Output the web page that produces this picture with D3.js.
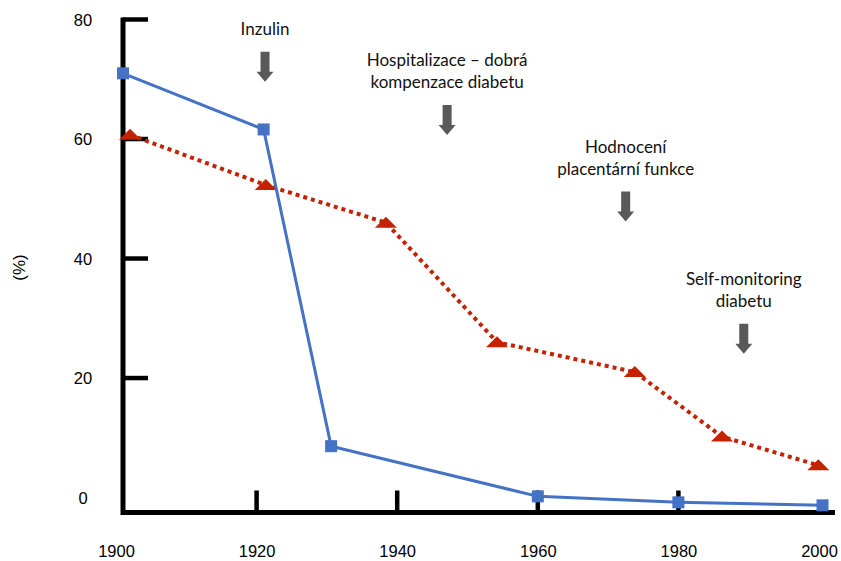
<!DOCTYPE html>
<html>
<head>
<meta charset="utf-8">
<script src="https://cdn.jsdelivr.net/npm/d3@7"></script>
<style>
  body { margin: 0; background: #fff; }
  svg { display: block; }
</style>
</head>
<body>
<svg></svg>
<script>
// data
let blueYears = [1901, 1921, 1930.6, 1960, 1980, 2000.5]
let blueValues = [71, 61.6, 8.6, 0.2, -0.8, -1.3]
let redYears = [1902, 1921.3, 1938.4, 1954.2, 1973.8, 1986.2, 1999.9]
let redValues = [60.7, 52.3, 46, 26, 21, 10.2, 5.4]
let xTicks = [1900, 1920, 1940, 1960, 1980, 2000]
let yTicks = [0, 20, 40, 60, 80]
let eventYears = [1921.2, 1947.1, 1972.5, 1989.3]
let eventLevels = [74.6, 65.7, 51.2, 29.1]
let eventLabels = [
  ['Inzulin'],
  ['Hospitalizace – dobrá', 'kompenzace diabetu'],
  ['Hodnocení', 'placentární funkce'],
  ['Self-monitoring', 'diabetu']
]

let width = 841,
    height = 561;

let svg = d3.select('svg')
            .attr('width', width)
            .attr('height', height)

//x scale
let x = d3.scaleLinear()
      .domain([1900, 2000])
      .range([116, 819])

//y scale
let y = d3.scaleLinear()
      .domain([-2.5, 80])
      .range([512.5, 19.5])

let blue = blueYears.map((d, i) => ({year: d, v: blueValues[i]}))
let red = redYears.map((d, i) => ({year: d, v: redValues[i]}))

// axes (custom look: thick black lines, ticks pointing inward)
let xAxis = d3.axisBottom(x)
              .tickValues(xTicks)
              .tickSize(0)
              .tickPadding(33)
              .tickFormat(d3.format('d'))
let yAxis = d3.axisLeft(y)
              .tickValues(yTicks)
              .tickSize(0)
              .tickPadding(0)

let gx = svg.append('g')
          .attr('transform', 'translate(0,' + y(-2.5) + ')')
          .call(xAxis)
gx.select('.domain').remove()
gx.selectAll('text')
  .attr('font-family', 'Liberation Sans, Arial, sans-serif')
  .attr('font-size', 16.5)
  .attr('fill', '#000')

let gy = svg.append('g')
          .attr('transform', 'translate(83,0)')
          .call(yAxis)
gy.select('.domain').remove()
gy.selectAll('text')
  .attr('text-anchor', 'middle')
  .attr('x', 0)
  .attr('dy', '0.35em')
  .attr('font-family', 'Liberation Sans, Arial, sans-serif')
  .attr('font-size', 16.5)
  .attr('fill', '#000')

// inward tick marks
svg.append('g').selectAll('line')
   .data(yTicks.filter(d => d > 0))
   .enter()
   .append('line')
   .attr('x1', 123).attr('x2', 148)
   .attr('y1', d => y(d)).attr('y2', d => y(d))
   .attr('stroke', '#000')
   .attr('stroke-width', 4.5)

svg.append('g').selectAll('line')
   .data(xTicks.filter(d => d > 1900 && d < 2000))
   .enter()
   .append('line')
   .attr('x1', d => x(d)).attr('x2', d => x(d))
   .attr('y1', y(-2.5)).attr('y2', y(-2.5) - 22)
   .attr('stroke', '#000')
   .attr('stroke-width', 4.5)

// axis lines
svg.append('line')
   .attr('x1', 123).attr('x2', 123)
   .attr('y1', y(80) - 2).attr('y2', y(-2.5) + 2.5)
   .attr('stroke', '#000')
   .attr('stroke-width', 5)
svg.append('line')
   .attr('x1', 121).attr('x2', 835)
   .attr('y1', y(-2.5)).attr('y2', y(-2.5))
   .attr('stroke', '#000')
   .attr('stroke-width', 5)

svg.append('text')
   .attr('transform', 'translate(25,' + y(38.5) + ') rotate(-90)')
   .attr('text-anchor', 'middle')
   .attr('font-family', 'Liberation Sans, Arial, sans-serif')
   .attr('font-size', 17)
   .text('(%)')

let line = d3.line()
             .x(d => x(d.year))
             .y(d => y(d.v))

// red dotted series
svg.append('path')
   .datum(red)
   .attr('d', line)
   .attr('fill', 'none')
   .attr('stroke', '#c42200')
   .attr('stroke-width', 4)
   .attr('stroke-dasharray', '4,4')

svg.append('g').selectAll('path')
   .data(red)
   .enter()
   .append('path')
   .attr('d', 'M0,-6L11,5L-11,5Z')
   .attr('transform', d => 'translate(' + x(d.year) + ',' + y(d.v) + ')')
   .attr('fill', '#c42200')

// blue series
svg.append('path')
   .datum(blue)
   .attr('d', line)
   .attr('fill', 'none')
   .attr('stroke', '#4472c4')
   .attr('stroke-width', 3)

svg.append('g').selectAll('rect')
   .data(blue)
   .enter()
   .append('rect')
   .attr('x', d => x(d.year) - 6)
   .attr('y', d => y(d.v) - 6)
   .attr('width', 12)
   .attr('height', 12)
   .attr('fill', '#4472c4')

// events: labels + arrows
let events = eventYears.map((d, i) => ({year: d, level: eventLevels[i], label: eventLabels[i]}))

let ev = svg.append('g').selectAll('g')
            .data(events)
            .enter()
            .append('g')
            .attr('transform', d => 'translate(' + x(d.year) + ',' + y(d.level) + ')')

ev.append('path')
  .attr('d', 'M-4.5,0H4.5V20H8.5L0,30L-8.5,20H-4.5Z')
  .attr('fill', '#595959')

ev.each(function(d) {
  let n = d.label.length
  d3.select(this).selectAll('text')
    .data(d.label)
    .enter()
    .append('text')
    .attr('text-anchor', 'middle')
    .attr('y', (t, i) => -17 - (n - 1 - i) * 22)
    .attr('font-family', 'Lato, sans-serif')
    .attr('font-size', 17)
    .attr('fill', '#111')
    .text(t => t)
})
</script>
</body>
</html>
